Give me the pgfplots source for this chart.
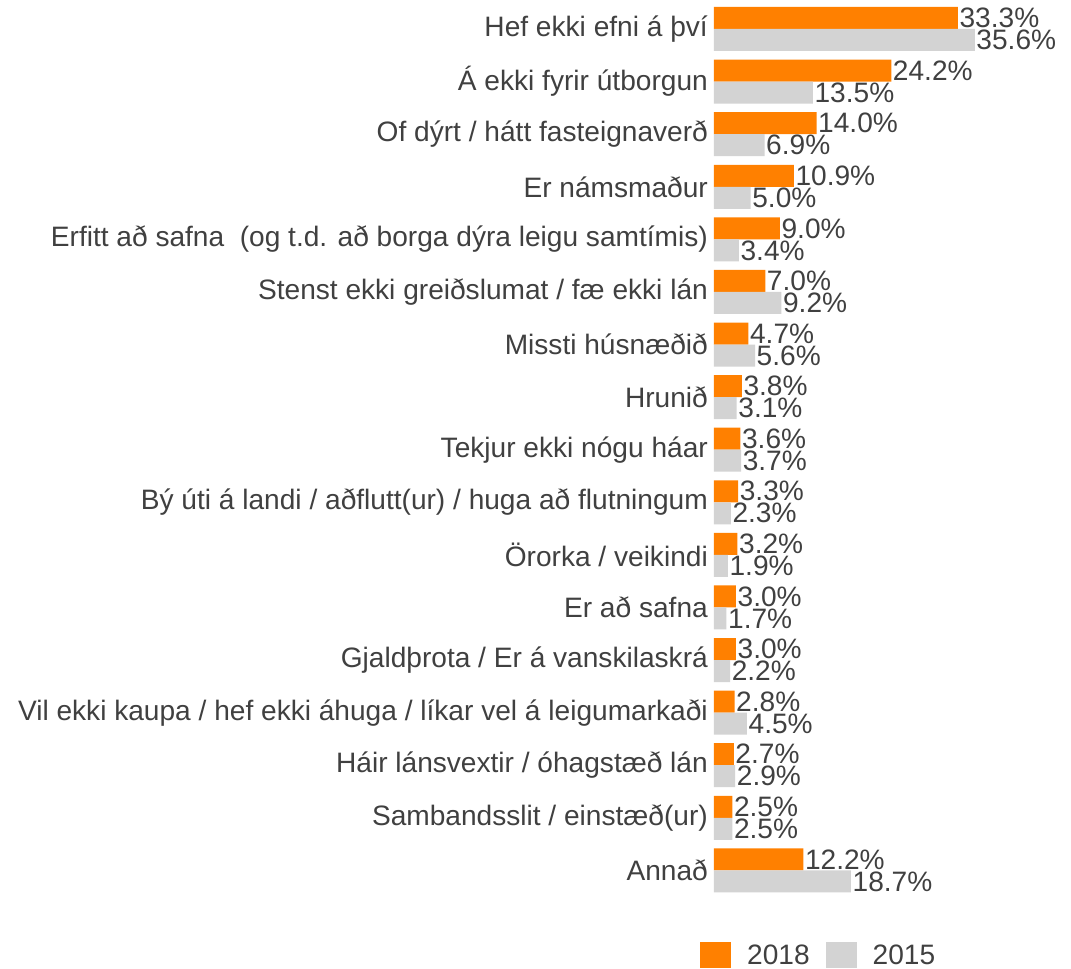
\documentclass[border=0pt]{standalone}
\usepackage{pgfplots}
\pgfplotsset{compat=1.18}
\usepackage{fontspec}
\setmainfont{Liberation Sans}
\definecolor{orng}{HTML}{FF8000}
\definecolor{lgray}{HTML}{D3D3D3}
\definecolor{txt}{HTML}{404040}
\begin{document}
\begin{tikzpicture}[x=1bp,y=1bp]
\begin{axis}[
  at={(714bp,-2.7bp)}, anchor=north west,
  scale only axis, width=293bp, height=894bp,
  xmin=0, xmax=40, ymin=-0.5, ymax=16.5,
  xbar, bar width=22bp,
  axis line style={draw=none}, major tick length=0pt,
  xtick=\empty,
  ytick={0,...,16},
  yticklabels={Annað, Sambandsslit / einstæð(ur), Háir lánsvextir / óhagstæð lán,
    Vil ekki kaupa / hef ekki áhuga / líkar vel á leigumarkaði,
    Gjaldþrota / Er á vanskilaskrá, Er að safna, Örorka / veikindi,
    Bý úti á landi / aðflutt(ur) / huga að flutningum, Tekjur ekki nógu háar,
    Hrunið, Missti húsnæðið, Stenst ekki greiðslumat / fæ ekki lán,
    {Erfitt að safna\ \ (og t.d. að borga dýra leigu samtímis)},
    Er námsmaður, Of dýrt / hátt fasteignaverð, Á ekki fyrir útborgun, Hef ekki efni á því},
  yticklabel style={font=\fontsize{28.2}{33}\selectfont, text=txt, anchor=east, inner xsep=0pt, xshift=-6bp},
  clip=false,
  point meta=x,
  /pgf/number format/assume math mode=true,
  nodes near coords={\pgfmathprintnumber[fixed,fixed zerofill,precision=1,assume math mode=true]{\pgfplotspointmeta}\%},
  nodes near coords style={font=\fontsize{28.2}{33}\selectfont, text=txt, anchor=west, inner xsep=1.5bp, inner ysep=0pt},
  legend columns=2,
  legend style={draw=none, fill=none, at={(-0.0478,-0.0652)}, anchor=west, inner sep=0pt,
    font=\fontsize{28.2}{33}\selectfont, text=txt,
    /tikz/every even column/.append style={column sep=0bp},
    nodes={inner xsep=16bp}},
  legend image code/.code={\path[#1,draw=none] (0bp,-13bp) rectangle (31bp,13bp);},
]
\addplot[fill=orng, draw=none, bar shift=11bp] coordinates {
(33.3,16) (24.2,15) (14.0,14) (10.9,13) (9.0,12) (7.0,11) (4.7,10) (3.8,9) (3.6,8)
(3.3,7) (3.2,6) (3.0,5) (3.0,4) (2.8,3) (2.7,2) (2.5,1) (12.2,0)};
\addplot[fill=lgray, draw=none, bar shift=-11bp] coordinates {
(35.6,16) (13.5,15) (6.9,14) (5.0,13) (3.4,12) (9.2,11) (5.6,10) (3.1,9) (3.7,8)
(2.3,7) (1.9,6) (1.7,5) (2.2,4) (4.5,3) (2.9,2) (2.5,1) (18.7,0)};
\legend{2018,2015}
\end{axis}
\useasboundingbox (0,0) rectangle (1071bp,-969bp);
\end{tikzpicture}
\end{document}
